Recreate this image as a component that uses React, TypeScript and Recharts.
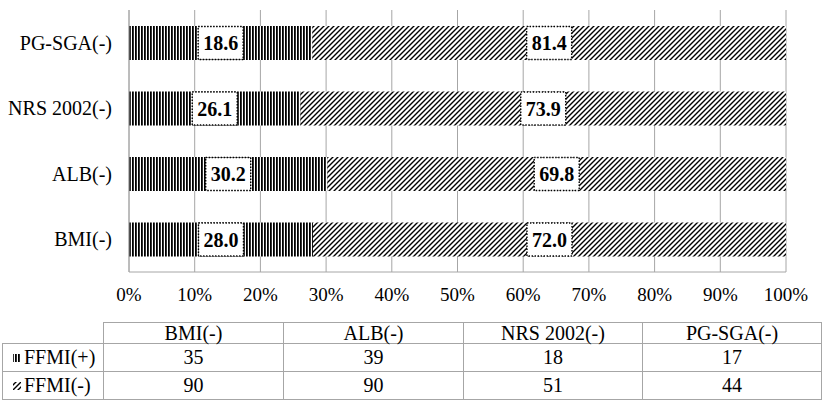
import React from 'react';
import { BarChart, Bar, XAxis, YAxis, CartesianGrid, LabelList } from 'recharts';

const categories = ['BMI(-)', 'ALB(-)', 'NRS 2002(-)', 'PG-SGA(-)'];
// bar lengths (percent of each group)
const ffmiPosPct = [28.0, 30.2, 26.1, 27.9];
const ffmiNegPct = [72.0, 69.8, 73.9, 72.1];
// labels as printed on the bars
const ffmiPosLabels = ['28.0', '30.2', '26.1', '18.6'];
const ffmiNegLabels = ['72.0', '69.8', '73.9', '81.4'];
// data table counts
const ffmiPosCounts = [35, 39, 18, 17];
const ffmiNegCounts = [90, 90, 51, 44];
const xTicks = [0, 10, 20, 30, 40, 50, 60, 70, 80, 90, 100];

const FONT = 'Liberation Serif, DejaVu Serif, serif';
const GRID = '#a6a6a6';

const data = categories.map((name, i) => ({
  name,
  pos: ffmiPosPct[i],
  neg: ffmiNegPct[i],
  posLabel: ffmiPosLabels[i],
  negLabel: ffmiNegLabels[i],
}));

function BoxLabel(props: any) {
  const { x, y, width, height, value } = props;
  if (x == null || value == null) return null;
  const bw = 45;
  const cx = x + width / 2;
  return (
    <g>
      <rect
        x={cx - bw / 2}
        y={y + 0.5}
        width={bw}
        height={height - 1}
        fill="#fff"
        stroke="#000"
        strokeWidth={1.4}
        strokeDasharray="1.4 1.6"
      />
      <text
        x={cx}
        y={y + height / 2}
        textAnchor="middle"
        dominantBaseline="central"
        style={{ fontFamily: FONT }}
        fontWeight="bold"
        fontSize={20}
        fill="#000"
      >
        {value}
      </text>
    </g>
  );
}

function Patterns({ v, d }: { v: string; d: string }) {
  return (
    <defs>
      <pattern id={v} width="3" height="4" patternUnits="userSpaceOnUse">
        <rect width="3" height="4" fill="#fff" />
        <rect width="1.8" height="4" fill="#000" />
      </pattern>
      <pattern id={d} width="5" height="5" patternUnits="userSpaceOnUse">
        <rect width="5" height="5" fill="#fff" />
        <path d="M0,5 L5,0 M-1,1 L1,-1 M4,6 L6,4" stroke="#000" strokeWidth={1.4} />
      </pattern>
    </defs>
  );
}

function Icon({ kind }: { kind: 'pos' | 'neg' }) {
  const v = 'iconV' + kind;
  const d = 'iconD' + kind;
  return (
    <svg width={10} height={10} style={{ verticalAlign: 'middle', marginRight: 2, marginTop: -3 }}>
      <Patterns v={v} d={d} />
      <rect x={1} y={1} width={8} height={8} fill={`url(#${kind === 'pos' ? v : d})`} />
    </svg>
  );
}

const cell: React.CSSProperties = {
  border: `1px solid ${GRID}`,
  textAlign: 'center',
  padding: 0,
  fontFamily: FONT,
  fontSize: 20,
  color: '#000',
};

export default function App() {
  return (
    <div
      style={{
        position: 'absolute',
        left: 0,
        top: 0,
        width: 829,
        height: 406,
        background: '#fff',
        fontFamily: FONT,
      }}
    >
      <BarChart
        width={829}
        height={310}
        data={data}
        layout="vertical"
        margin={{ top: 10, right: 43, bottom: 8, left: 0 }}
        style={{ fontFamily: FONT }}
      >
        <Patterns v="vlines" d="diag" />
        <CartesianGrid horizontal={false} stroke={GRID} />
        <XAxis
          type="number"
          domain={[0, 100]}
          ticks={xTicks}
          interval={0}
          tickFormatter={(v) => `${v}%`}
          tickLine={false}
          tickMargin={10}
          axisLine={{ stroke: GRID }}
          height={30}
          tick={{ fill: '#000', fontSize: 19, fontFamily: FONT }}
        />
        <YAxis
          type="category"
          dataKey="name"
          reversed
          width={129}
          tickLine={false}
          tickMargin={11}
          axisLine={{ stroke: GRID }}
          tick={{ fill: '#000', fontSize: 20, fontFamily: FONT }}
        />
        <Bar dataKey="pos" stackId="a" barSize={34} fill="url(#vlines)" isAnimationActive={false}>
          <LabelList dataKey="posLabel" content={<BoxLabel />} />
        </Bar>
        <Bar dataKey="neg" stackId="a" barSize={34} fill="url(#diag)" isAnimationActive={false}>
          <LabelList dataKey="negLabel" content={<BoxLabel />} />
        </Bar>
      </BarChart>
      <table
        style={{
          position: 'absolute',
          left: 2,
          top: 322,
          borderCollapse: 'collapse',
          tableLayout: 'fixed',
          width: 819,
        }}
      >
        <colgroup>
          <col style={{ width: 101 }} />
          <col style={{ width: 180 }} />
          <col style={{ width: 180 }} />
          <col style={{ width: 179 }} />
          <col style={{ width: 179 }} />
        </colgroup>
        <tbody>
          <tr style={{ height: 21 }}>
            <td style={{ ...cell, borderTop: 'none', borderLeft: 'none' }} />
            {categories.map((c) => (
              <td key={c} style={{ ...cell, lineHeight: '20px' }}>
                {c}
              </td>
            ))}
          </tr>
          <tr style={{ height: 28 }}>
            <td style={{ ...cell, textAlign: 'left', paddingLeft: 9, whiteSpace: 'nowrap' }}>
              <Icon kind="pos" />
              FFMI(+)
            </td>
            {ffmiPosCounts.map((v, i) => (
              <td key={i} style={cell}>
                {v}
              </td>
            ))}
          </tr>
          <tr style={{ height: 28 }}>
            <td style={{ ...cell, textAlign: 'left', paddingLeft: 9, whiteSpace: 'nowrap' }}>
              <Icon kind="neg" />
              FFMI(-)
            </td>
            {ffmiNegCounts.map((v, i) => (
              <td key={i} style={cell}>
                {v}
              </td>
            ))}
          </tr>
        </tbody>
      </table>
    </div>
  );
}
